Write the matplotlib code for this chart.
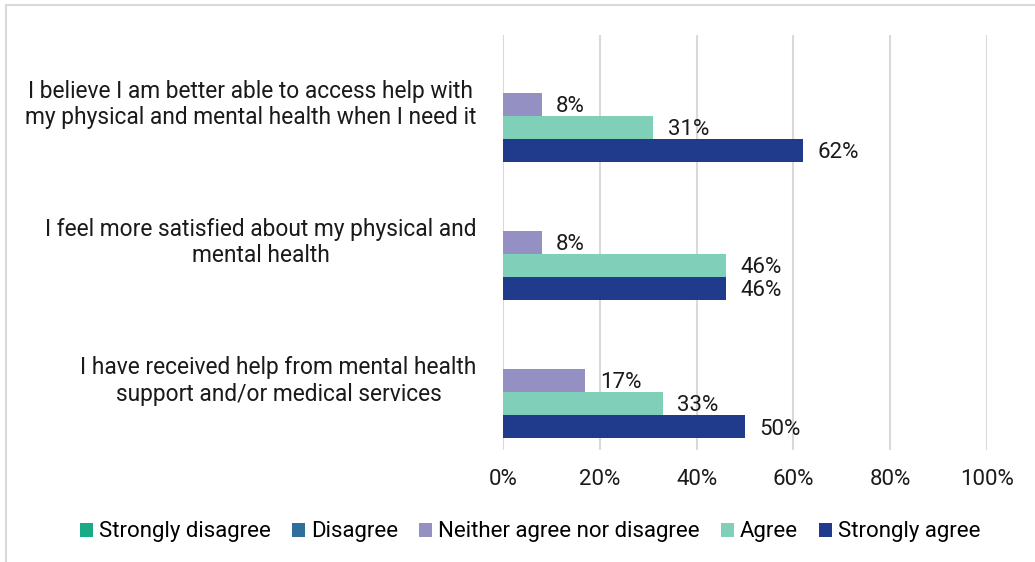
import matplotlib
matplotlib.use("Agg")
import matplotlib.pyplot as plt
from matplotlib.patches import Rectangle
import numpy as np

plt.rcParams['font.family'] = ['Roboto', 'DejaVu Sans']

categories = [
    "I believe I am better able to access help with\nmy physical and mental health when I need it",
    "I feel more satisfied about my physical and\nmental health",
    "I have received help from mental health\nsupport and/or medical services",
]
series_names = ["Strongly disagree", "Disagree", "Neither agree nor disagree",
                "Agree", "Strongly agree"]
strongly_disagree = [0, 0, 0]
disagree = [0, 0, 0]
neither = [8, 8, 17]
agree = [31, 46, 33]
strongly_agree = [62, 46, 50]
xticks = [0, 20, 40, 60, 80, 100]

colors = ["#1AAA88", "#2F6F9B", "#9490C4", "#80CFB8", "#203A8C"]
values = [strongly_disagree, disagree, neither, agree, strongly_agree]

FS = 16
TXT = "#1a1a1a"

fig = plt.figure(figsize=(10.35, 5.62), dpi=100)
W, H = 1035, 562
ax = fig.add_axes([503 / W, 1 - 450 / H, (987 - 503) / W, (450 - 35) / H])

# chart border
fig.patches.append(Rectangle((6 / W, -0.05), 1.2, (H - 5) / H + 0.05,
                             transform=fig.transFigure, fill=False,
                             edgecolor="#D9D9D9", linewidth=1.5))

n_series = len(series_names)
slot = 1.0 / 6  # five bars plus a one-bar gap per category
y_centers = np.arange(len(categories))
for i, (name, vals, col) in enumerate(zip(series_names, values, colors)):
    offs = (i - (n_series - 1) / 2) * slot
    ypos = y_centers + offs
    ax.barh(ypos, vals, height=slot, color=col, label=name, zorder=3)
    for y, v in zip(ypos, vals):
        if v > 0:
            ax.text(v + 3.0, y + 0.015, f"{v}%", va="center", ha="left",
                    fontsize=FS, color=TXT, zorder=4)

ax.set_ylim(len(categories) - 0.5, -0.5)
ax.set_xlim(0, 100)
ax.set_xticks(xticks)
ax.set_xticklabels([f"{t}%" for t in xticks], fontsize=FS, color=TXT)
# category labels sit a touch above the group centre
ax.set_yticks(y_centers - 0.03)
ax.set_yticklabels(categories, fontsize=16.4, color=TXT, ha="right",
                   multialignment="center", linespacing=1.2)
ax.tick_params(axis="both", length=0)
ax.tick_params(axis="x", pad=14)
ax.tick_params(axis="y", pad=19)
ax.grid(axis="x", color="#D9D9D9", linewidth=1.5, zorder=0)
for s in ax.spines.values():
    s.set_visible(False)

handles, labels = ax.get_legend_handles_labels()
fig.legend(handles, labels, loc="center", bbox_to_anchor=(530 / W, 1 - 532 / H),
           ncol=5, frameon=False, fontsize=FS, handlelength=0.6,
           handleheight=0.6, handletextpad=0.25, columnspacing=0.95)

fig.savefig("out.png", dpi=100)
